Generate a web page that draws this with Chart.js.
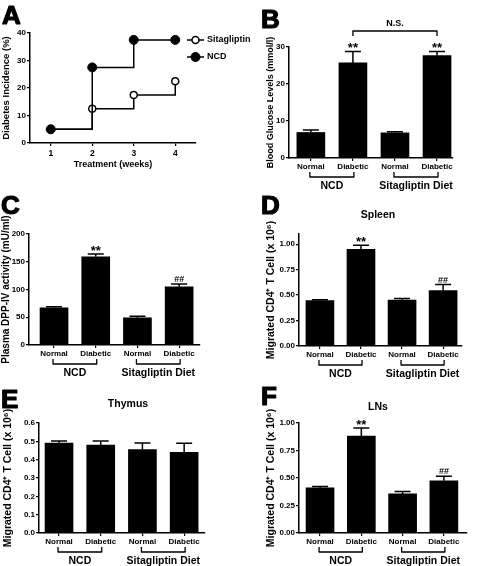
<!DOCTYPE html>
<html>
<head>
<meta charset="utf-8">
<script src="https://cdn.jsdelivr.net/npm/chart.js@4"></script>
<style>
  body { margin: 0; background: #fff; width: 480px; height: 566px; position: relative; overflow: hidden; }
  canvas { position: absolute; }
</style>
</head>
<body>
<canvas id="pA"></canvas>
<canvas id="pB"></canvas>
<canvas id="pC"></canvas>
<canvas id="pD"></canvas>
<canvas id="pE"></canvas>
<canvas id="pF"></canvas>
<script>
// --- data ---
const weeks = [1, 2, 3, 4];
const sitagliptinIncidence = [5, 12.5, 17.5, 22.5];
const ncdIncidence = [5, 27.5, 37.5, 37.5];

const barLabels = ['Normal', 'Diabetic', 'Normal', 'Diabetic'];
const dietGroups = ['NCD', 'Sitagliptin Diet'];

const glucoseMean = [6.9, 25.7, 6.8, 27.7];
const glucoseSem = [0.7, 3.1, 0.3, 1.1];
const glucoseMarks = ['', '**', '', '**'];

const dppMean = [67, 159, 49, 105];
const dppSem = [2, 5, 3, 5];
const dppMarks = ['', '**', '', '##'];

const spleenMean = [0.445, 0.95, 0.45, 0.545];
const spleenSem = [0.01, 0.04, 0.017, 0.058];
const spleenMarks = ['', '**', '', '##'];

const thymusMean = [0.49, 0.48, 0.455, 0.44];
const thymusSem = [0.012, 0.022, 0.036, 0.05];
const thymusMarks = ['', '', '', ''];

const lnMean = [0.41, 0.88, 0.355, 0.475];
const lnSem = [0.012, 0.075, 0.022, 0.04];
const lnMarks = ['', '**', '', '##'];

const yTicksA = [0, 10, 20, 30, 40];
const yTicksB = [0, 10, 20, 30];
const yTicksC = [0, 50, 100, 150, 200];
const yTicksD = [0, 0.25, 0.5, 0.75, 1];
const yTicksE = [0, 0.1, 0.2, 0.3, 0.4, 0.5, 0.6];
const yTicksF = [0, 0.25, 0.5, 0.75, 1];

const FONT = "'Liberation Sans', Arial, sans-serif";
Chart.defaults.font.family = FONT;
Chart.defaults.font.weight = 'bold';
Chart.defaults.color = '#000';
Chart.defaults.animation = false;

const tickGrid = { display: true, offset: false, drawOnChartArea: false, drawTicks: true, tickLength: 3, color: '#000', lineWidth: 1.2 };
const axisBorder = { display: true, color: '#000', width: 1.5 };

function setupCanvas(id, box) {
  const c = document.getElementById(id);
  c.width = box[2];
  c.height = box[3];
  c.style.left = box[0] + 'px';
  c.style.top = box[1] + 'px';
  return c;
}

// box = [left, top, width, height] of canvas, area = [left, top, right, bottom] of plot, page px
function layoutFor(box, area) {
  return {
    padding: { left: 0, top: area[1] - box[1], right: box[0] + box[2] - area[2], bottom: 0 },
    yWidth: area[0] - box[0],
    xHeight: box[1] + box[3] - area[3]
  };
}

// fixed range and fixed tick list on a linear scale
function pinTicks(min, max, values) {
  return s => {
    s.min = min;
    s.max = max;
    s.ticks = values.map(v => ({ value: v }));
  };
}

function drawLetter(ctx, p) {
  ctx.font = 'bold 26px ' + FONT;
  ctx.textAlign = 'left';
  ctx.textBaseline = 'alphabetic';
  ctx.lineWidth = 1.2;
  ctx.lineJoin = 'round';
  ctx.strokeStyle = '#000';
  const lx = p.letterAt[0] - p.box[0], ly = p.letterAt[1] - p.box[1];
  ctx.fillText(p.letter, lx, ly);
  ctx.strokeText(p.letter, lx, ly);
}

function barDecor(p) {
  return {
    id: 'barDecor',
    afterDatasetsDraw(chart) {
      const ctx = chart.ctx;
      const meta = chart.getDatasetMeta(0);
      const y = chart.scales.y;
      ctx.save();
      ctx.strokeStyle = '#000';
      ctx.fillStyle = '#000';
      ctx.lineWidth = 1.5;
      meta.data.forEach((bar, i) => {
        const base = y.getPixelForValue(p.mean[i]);
        const top = y.getPixelForValue(p.mean[i] + p.sem[i]);
        ctx.beginPath();
        ctx.moveTo(bar.x, base);
        ctx.lineTo(bar.x, top);
        ctx.moveTo(bar.x - 8, top);
        ctx.lineTo(bar.x + 8, top);
        ctx.stroke();
        const m = p.marks[i];
        if (m) {
          ctx.textAlign = 'center';
          ctx.textBaseline = 'alphabetic';
          if (m === '**') {
            ctx.font = 'bold 13px ' + FONT;
            ctx.fillText(m, bar.x, top + 1);
          } else {
            ctx.font = 'bold 9px ' + FONT;
            ctx.fillText(m, bar.x, top - 2);
          }
        }
      });
      ctx.restore();
    },
    afterDraw(chart) {
      const ctx = chart.ctx;
      const x = chart.scales.x;
      const area = chart.chartArea;
      ctx.save();
      ctx.fillStyle = '#000';
      drawLetter(ctx, p);
      ctx.strokeStyle = '#000';
      ctx.lineWidth = 1.3;
      if (p.title) {
        ctx.font = 'bold 10.5px ' + FONT;
        ctx.textAlign = 'center';
        ctx.textBaseline = 'middle';
        ctx.fillText(p.title, p.titleAt[0] - p.box[0], p.titleAt[1] - p.box[1]);
      }
      // diet group brackets
      const by = area.bottom + 19;
      dietGroups.forEach((g, k) => {
        const x1 = x.getPixelForValue(2 * k) - 1;
        const x2 = x.getPixelForValue(2 * k + 1) + 1;
        ctx.beginPath();
        ctx.moveTo(x1, by - 5);
        ctx.lineTo(x1, by);
        ctx.lineTo(x2, by);
        ctx.lineTo(x2, by - 5);
        ctx.stroke();
        ctx.font = 'bold 10.5px ' + FONT;
        ctx.textAlign = 'center';
        ctx.textBaseline = 'middle';
        ctx.fillText(g, (x1 + x2) / 2, area.bottom + 28);
      });
      if (p.compare) {
        const c = p.compare;
        const x1 = x.getPixelForValue(c.from);
        const x2 = x.getPixelForValue(c.to);
        const cy = c.y - p.box[1];
        ctx.beginPath();
        ctx.moveTo(x1, cy + 5);
        ctx.lineTo(x1, cy);
        ctx.lineTo(x2, cy);
        ctx.lineTo(x2, cy + 5);
        ctx.stroke();
        ctx.font = 'bold 9px ' + FONT;
        ctx.textAlign = 'center';
        ctx.textBaseline = 'middle';
        ctx.fillText(c.text, (x1 + x2) / 2, cy - 7);
      }
      ctx.restore();
    }
  };
}

function barPanel(p) {
  const c = setupCanvas(p.id, p.box);
  const L = layoutFor(p.box, p.area);
  const lh = p.yTitleSize * 1.2;
  new Chart(c, {
    type: 'bar',
    data: {
      datasets: [{
        data: p.mean.map((m, i) => ({ x: i, y: m })),
        backgroundColor: '#000',
        borderWidth: 0,
        barThickness: 28
      }]
    },
    options: {
      responsive: false,
      layout: { padding: L.padding },
      plugins: { legend: { display: false }, tooltip: { enabled: false } },
      scales: {
        x: {
          type: 'linear',
          offset: false,
          bounds: 'data',
          min: p.xRange[0],
          max: p.xRange[1],
          afterBuildTicks: pinTicks(p.xRange[0], p.xRange[1], barLabels.map((_, i) => i)),
          afterFit: s => { s.height = L.xHeight; },
          ticks: { callback: v => barLabels[v], font: { size: 8, weight: 'bold' }, padding: 1, maxRotation: 0, autoSkip: false },
          grid: tickGrid,
          border: axisBorder
        },
        y: {
          bounds: 'data',
          min: 0,
          max: p.yMax,
          afterBuildTicks: pinTicks(0, p.yMax, p.yTicks),
          afterFit: s => { s.width = L.yWidth; },
          ticks: { callback: v => v.toFixed(p.decimals), font: { size: 8, weight: 'bold' }, padding: 1 },
          grid: tickGrid,
          border: axisBorder,
          title: {
            display: true,
            text: p.yTitle,
            font: { size: p.yTitleSize, weight: 'bold' },
            padding: { top: p.yTitleX - p.box[0] - lh / 2, bottom: 0 }
          }
        }
      }
    },
    plugins: [barDecor(p)]
  });
}

// --- panel A: step lines ---
(function () {
  const p = { id: 'pA', box: [0, 0, 270, 185], area: [30, 33, 196, 143], letter: 'A', letterAt: [2, 24] };
  const c = setupCanvas(p.id, p.box);
  const L = layoutFor(p.box, p.area);
  const legendRows = [40, 57];
  new Chart(c, {
    type: 'line',
    data: {
      datasets: [{
        label: 'Sitagliptin',
        data: weeks.map((w, i) => ({ x: w, y: sitagliptinIncidence[i] })),
        borderColor: '#000', borderWidth: 1.5, stepped: true,
        pointRadius: 3.5, pointBorderWidth: 1.5, pointBackgroundColor: '#fff', pointBorderColor: '#000',
        order: 0
      }, {
        label: 'NCD',
        data: weeks.map((w, i) => ({ x: w, y: ncdIncidence[i] })),
        borderColor: '#000', borderWidth: 1.5, stepped: true,
        pointRadius: 4.5, pointBorderWidth: 1, pointBackgroundColor: '#000', pointBorderColor: '#000',
        order: -1
      }]
    },
    options: {
      responsive: false,
      layout: { padding: L.padding },
      plugins: { legend: { display: false }, tooltip: { enabled: false } },
      scales: {
        x: {
          type: 'linear', bounds: 'data', min: 0.5, max: 4.5,
          afterBuildTicks: pinTicks(0.5, 4.5, weeks),
          afterFit: s => { s.height = L.xHeight; },
          ticks: { font: { size: 8.5, weight: 'bold' }, padding: 3 },
          grid: tickGrid, border: axisBorder,
          title: { display: true, text: 'Treatment (weeks)', font: { size: 9, weight: 'bold' }, padding: { top: 0, bottom: 14.6 } }
        },
        y: {
          bounds: 'data', min: 0, max: 40,
          afterBuildTicks: pinTicks(0, 40, yTicksA),
          afterFit: s => { s.width = L.yWidth; },
          ticks: { font: { size: 8, weight: 'bold' }, padding: 1 },
          grid: tickGrid, border: axisBorder,
          title: { display: true, text: 'Diabetes Incidence (%)', font: { size: 9.5, weight: 'bold' }, padding: { top: 0.3, bottom: 0 } }
        }
      }
    },
    plugins: [{
      id: 'lineDecor',
      afterDraw(chart) {
        const ctx = chart.ctx;
        ctx.save();
        ctx.fillStyle = '#000';
        drawLetter(ctx, p);
        chart.data.datasets.forEach((ds, i) => {
          const y = legendRows[i];
          ctx.strokeStyle = '#000';
          ctx.lineWidth = ds.borderWidth;
          ctx.beginPath();
          ctx.moveTo(187, y);
          ctx.lineTo(204, y);
          ctx.stroke();
          ctx.beginPath();
          ctx.arc(195.5, y, ds.pointRadius, 0, Math.PI * 2);
          ctx.fillStyle = ds.pointBackgroundColor;
          ctx.fill();
          ctx.lineWidth = ds.pointBorderWidth;
          ctx.stroke();
          ctx.fillStyle = '#000';
          ctx.font = 'bold 9px ' + FONT;
          ctx.textAlign = 'left';
          ctx.textBaseline = 'middle';
          ctx.fillText(ds.label, 207, y);
        });
        ctx.restore();
      }
    }]
  });
})();

barPanel({
  id: 'pB', box: [240, 0, 240, 195], area: [289, 47, 453, 158], xRange: [-0.52, 3.38],
  yMax: 30, yTicks: yTicksB, decimals: 0,
  mean: glucoseMean, sem: glucoseSem, marks: glucoseMarks,
  yTitle: 'Blood Glucose Levels (mmol/l)', yTitleSize: 9, yTitleX: 271,
  letter: 'B', letterAt: [261, 28],
  compare: { from: 1, to: 3, y: 31, text: 'N.S.' }
});

barPanel({
  id: 'pC', box: [0, 185, 240, 195], area: [29, 234, 200, 345], xRange: [-0.6, 3.5],
  yMax: 200, yTicks: yTicksC, decimals: 0,
  mean: dppMean, sem: dppSem, marks: dppMarks,
  yTitle: 'Plasma DPP-IV activity (mU/ml)', yTitleSize: 10, yTitleX: 6,
  letter: 'C', letterAt: [1, 214]
});

barPanel({
  id: 'pD', box: [240, 185, 240, 195], area: [299, 234, 462, 346], xRange: [-0.51, 3.46],
  yMax: 1.1, yTicks: yTicksD, decimals: 2,
  mean: spleenMean, sem: spleenSem, marks: spleenMarks,
  yTitle: 'Migrated CD4\u207A T Cell (x 10\u2076)', yTitleSize: 10.5, yTitleX: 271,
  letter: 'D', letterAt: [261, 214],
  title: 'Spleen', titleAt: [378, 215]
});

barPanel({
  id: 'pE', box: [0, 378, 240, 188], area: [39, 423, 205, 533], xRange: [-0.48, 3.5],
  yMax: 0.6, yTicks: yTicksE, decimals: 1,
  mean: thymusMean, sem: thymusSem, marks: thymusMarks,
  yTitle: 'Migrated CD4\u207A T Cell (x 10\u2076)', yTitleSize: 10.5, yTitleX: 8,
  letter: 'E', letterAt: [1, 408],
  title: 'Thymus', titleAt: [128, 404]
});

barPanel({
  id: 'pF', box: [240, 378, 240, 188], area: [299, 423, 467, 533], xRange: [-0.51, 3.56],
  yMax: 1.0, yTicks: yTicksF, decimals: 2,
  mean: lnMean, sem: lnSem, marks: lnMarks,
  yTitle: 'Migrated CD4\u207A T Cell (x 10\u2076)', yTitleSize: 10.5, yTitleX: 271,
  letter: 'F', letterAt: [261, 405],
  title: 'LNs', titleAt: [378, 407]
});
</script>
</body>
</html>
